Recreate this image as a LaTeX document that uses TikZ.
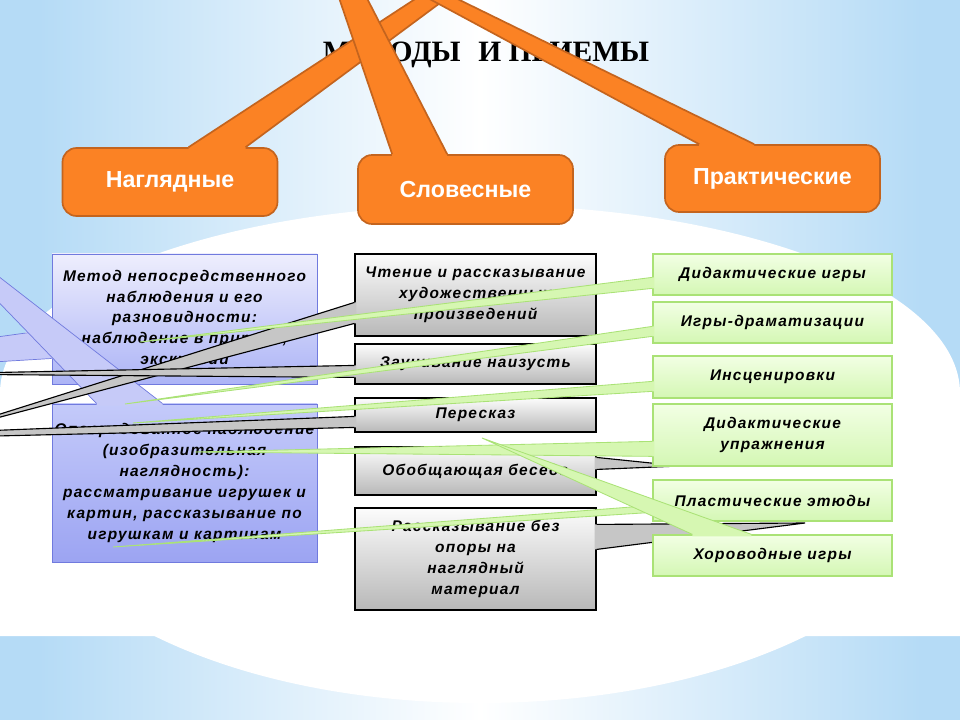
\documentclass[tikz,border=0pt]{standalone}
\usepackage{fontspec}
\setmainfont{Liberation Sans}
\newfontfamily\ttlfont{Liberation Serif}
\newfontfamily\lblfont[LetterSpace=8]{Liberation Sans}
\usetikzlibrary{calc}

\definecolor{bgblue}{RGB}{181,219,246}
\definecolor{orng}{RGB}{251,130,36}
\definecolor{orngdark}{RGB}{196,100,30}
\definecolor{bluetop}{RGB}{238,238,253}
\definecolor{bluebot}{RGB}{172,180,246}
\definecolor{bluetoptwo}{RGB}{196,202,250}
\definecolor{bluebottwo}{RGB}{156,164,242}
\definecolor{blueline}{RGB}{112,122,222}
\definecolor{bluewedge}{RGB}{198,202,248}
\definecolor{graytop}{RGB}{252,252,252}
\definecolor{graybot}{RGB}{184,184,184}
\definecolor{graywedge}{RGB}{198,198,198}
\definecolor{greentop}{RGB}{242,255,228}
\definecolor{greenbot}{RGB}{212,247,180}
\definecolor{greenline}{RGB}{170,226,118}
\definecolor{greenwedge}{RGB}{214,247,178}

\pgfdeclarehorizontalshading{skyglow}{100bp}{color(0bp)=(bgblue); color(27bp)=(bgblue); color(50bp)=(white); color(73bp)=(bgblue); color(100bp)=(bgblue)}

\newlength{\pxu}\setlength{\pxu}{0.025cm}
\newcommand{\boxtxt}{\lblfont\bfseries\itshape\fontsize{11}{14.9}\selectfont}
\newcommand{\headtxt}{\bfseries\fontsize{16.5}{18}\selectfont}

% callout pointer: fill style, edge style, base a, base b, tip, inward shift
\newcommand{\calloutwedge}[6]{%
  \fill[#1] ($(#3)+(#6)$) -- (#3) -- (#5) -- (#4) -- ($(#4)+(#6)$) -- cycle;
  \draw[#2] (#3) -- (#5) -- (#4);}

\begin{document}
\begin{tikzpicture}[x=0.025cm, y=-0.025cm,
  bluebox/.style={draw=blueline, line width=0.7pt, top color=bluetop, bottom color=bluebot, inner sep=0pt, align=center, font=\boxtxt},
  graybox/.style={draw=black, line width=0.8pt, top color=graytop, bottom color=graybot, inner sep=0pt, align=center, font=\boxtxt},
  greenbox/.style={draw=greenline, line width=0.9pt, top color=greentop, bottom color=greenbot, inner sep=0pt, align=center, font=\boxtxt},
  headbox/.style={draw=orngdark, line width=1.2pt, fill=orng, rounded corners=10pt, inner sep=0pt, text=white, font=\headtxt, minimum width=215\pxu},
  orngfill/.style={fill=orng}, orngedge/.style={draw=orngdark, line width=1.2pt},
  bluefill/.style={fill=bluewedge}, blueedge/.style={draw=blueline, line width=0.5pt},
  grayfill/.style={fill=graywedge}, grayedge/.style={draw=black, line width=0.8pt},
  greenfill/.style={fill=greenwedge}, greenedge/.style={draw=greenline, line width=0.6pt}]
\useasboundingbox (0,0) rectangle (960,720);
\begin{scope}
\clip (0,0) rectangle (960,720);

% background
\shade[shading=skyglow] (0,0) rectangle (960,720);
\fill[white] (0,393) arc[start angle=180, end angle=360, x radius=480, y radius=188] -- (960,636) -- (0,636) -- cycle;
\fill[white] (480,470) ellipse[x radius=464, y radius=233];

% title
\node[font=\ttlfont\bfseries\fontsize{21}{21}\selectfont, anchor=base] (ttl) at (486,62) {МЕТОДЫ\hspace{0.6em}И ПРИЕМЫ};

% left column
\node[bluebox, minimum width=265\pxu, minimum height=130\pxu] (nabl) at (184.5,319)
  {Метод непосредственного\\наблюдения и его\\разновидности:\\наблюдение в природе,\\экскурсии};
\coordinate (nabla) at ($(nabl.north west)+(0,76)$);
\coordinate (nablb) at ($(nabl.north west)+(0,105)$);
\coordinate (nabltip) at (-325,381);
\calloutwedge{bluefill}{blueedge}{nabla}{nablb}{nabltip}{2,0}

\node[bluebox, top color=bluetoptwo, bottom color=bluebottwo, minimum width=265\pxu, minimum height=158\pxu] (oposr) at (184.5,483)
  {Опосредованное наблюдение\\(изобразительная\\наглядность):\\рассматривание игрушек и\\картин, рассказывание по\\игрушкам и картинам};
\coordinate (oposra) at ($(oposr.north west)+(45,0)$);
\coordinate (oposrb) at ($(oposr.north west)+(111,0)$);
\coordinate (oposrtip) at (-100,200);
\calloutwedge{bluefill}{blueedge}{oposra}{oposrb}{oposrtip}{0,2}

% middle column
\node[graybox, minimum width=241\pxu, minimum height=82\pxu] (chten) at (475.5,295)
  {Чтение и рассказывание\\художественных\\произведений};
\node[graybox, minimum width=241\pxu, minimum height=40\pxu] (zauch) at (475.5,364) {Заучивание наизусть};
\node[graybox, minimum width=241\pxu, minimum height=34\pxu] (peresk) at (475.5,415) {Пересказ};
\node[graybox, minimum width=241\pxu, minimum height=48\pxu] (beseda) at (475.5,471) {Обобщающая беседа};
\node[graybox, minimum width=241\pxu, minimum height=102\pxu] (rassk) at (475.5,559)
  {Рассказывание без\\опоры на\\наглядный\\материал};

\coordinate (chtena) at ($(chten.north west)+(0,49)$);
\coordinate (chtenb) at ($(chten.north west)+(0,70)$);
\coordinate (chtentip) at (-60,433);
\calloutwedge{grayfill}{grayedge}{chtena}{chtenb}{chtentip}{2,0}
\coordinate (zaucha) at ($(zauch.north west)+(0,22)$);
\coordinate (zauchb) at ($(zauch.north west)+(0,34)$);
\coordinate (zauchtip) at (-80,374);
\calloutwedge{grayfill}{grayedge}{zaucha}{zauchb}{zauchtip}{2,0}
\coordinate (pereska) at ($(peresk.north west)+(0,19)$);
\coordinate (pereskb) at ($(peresk.north west)+(0,30)$);
\coordinate (peresktip) at (-380,445);
\calloutwedge{grayfill}{grayedge}{pereska}{pereskb}{peresktip}{2,0}
\coordinate (besedaa) at ($(beseda.north east)+(0,11)$);
\coordinate (besedab) at ($(beseda.north east)+(0,23)$);
\coordinate (besedatip) at (680,466);
\calloutwedge{grayfill}{grayedge}{besedaa}{besedab}{besedatip}{-2,0}
\coordinate (rasska) at ($(rassk.north east)+(0,17)$);
\coordinate (rasskb) at ($(rassk.north east)+(0,42)$);
\coordinate (rassktip) at (805,523);
\calloutwedge{grayfill}{grayedge}{rasska}{rasskb}{rassktip}{-2,0}

% right column
\node[greenbox, minimum width=239\pxu, minimum height=41\pxu] (dgames) at (772.5,274.5) {Дидактические игры};
\coordinate (dgamesa) at ($(dgames.north west)+(0,24)$);
\coordinate (dgamesb) at ($(dgames.north west)+(0,35)$);
\coordinate (dgamestip) at (140,342);
\calloutwedge{greenfill}{greenedge}{dgamesa}{dgamesb}{dgamestip}{2,0}

\node[greenbox, minimum width=239\pxu, minimum height=41\pxu] (dramat) at (772.5,322.5) {Игры-драматизации};
\coordinate (dramata) at ($(dramat.north west)+(0,25)$);
\coordinate (dramatb) at ($(dramat.north west)+(0,35)$);
\coordinate (dramattip) at (125,404);
\calloutwedge{greenfill}{greenedge}{dramata}{dramatb}{dramattip}{2,0}

\node[greenbox, minimum width=239\pxu, minimum height=42\pxu] (inscen) at (772.5,377) {Инсценировки};
\coordinate (inscena) at ($(inscen.north west)+(0,26)$);
\coordinate (inscenb) at ($(inscen.north west)+(0,36)$);
\coordinate (inscentip) at (133,423);
\calloutwedge{greenfill}{greenedge}{inscena}{inscenb}{inscentip}{2,0}

\node[greenbox, minimum width=239\pxu, minimum height=62\pxu] (dexerc) at (772.5,435) {Дидактические\\упражнения};
\coordinate (dexerca) at ($(dexerc.north west)+(0,38)$);
\coordinate (dexercb) at ($(dexerc.north west)+(0,53)$);
\coordinate (dexerctip) at (195,452);
\calloutwedge{greenfill}{greenedge}{dexerca}{dexercb}{dexerctip}{2,0}

\node[greenbox, minimum width=239\pxu, minimum height=41\pxu] (plast) at (772.5,500.5) {Пластические этюды};
\coordinate (plasta) at ($(plast.north west)+(0,26)$);
\coordinate (plastb) at ($(plast.north west)+(0,33)$);
\coordinate (plasttip) at (113,547);
\calloutwedge{greenfill}{greenedge}{plasta}{plastb}{plasttip}{2,0}

\node[greenbox, minimum width=239\pxu, minimum height=41\pxu] (horov) at (772.5,555.5) {Хороводные игры};
\coordinate (horova) at ($(horov.north west)+(40,0)$);
\coordinate (horovb) at ($(horov.north west)+(99,0)$);
\coordinate (horovtip) at (482,438);
\calloutwedge{greenfill}{greenedge}{horova}{horovb}{horovtip}{0,2}

% group heads
\node[headbox, minimum height=68\pxu] (naglyad) at (170,182) {Наглядные};
\coordinate (naglyada) at ($(naglyad.north west)+(127,0)$);
\coordinate (naglyadb) at ($(naglyad.north west)+(184,0)$);
\coordinate (naglyadtip) at (672,-169);
\calloutwedge{orngfill}{orngedge}{naglyada}{naglyadb}{naglyadtip}{0,3}

\node[headbox, minimum height=67\pxu] (prakt) at (772.5,178.5) {Практические};
\coordinate (prakta) at ($(prakt.north west)+(35,0)$);
\coordinate (praktb) at ($(prakt.north west)+(90,0)$);
\coordinate (prakttip) at (151,-151);
\calloutwedge{orngfill}{orngedge}{prakta}{praktb}{prakttip}{0,3}

\node[headbox, minimum height=69\pxu] (slovesn) at (465.5,189.5) {Словесные};
\coordinate (slovesna) at ($(slovesn.north west)+(35,0)$);
\coordinate (slovesnb) at ($(slovesn.north west)+(90,0)$);
\coordinate (slovesntip) at (285,-161);
\calloutwedge{orngfill}{orngedge}{slovesna}{slovesnb}{slovesntip}{0,3}
\end{scope}
\end{tikzpicture}
\end{document}
